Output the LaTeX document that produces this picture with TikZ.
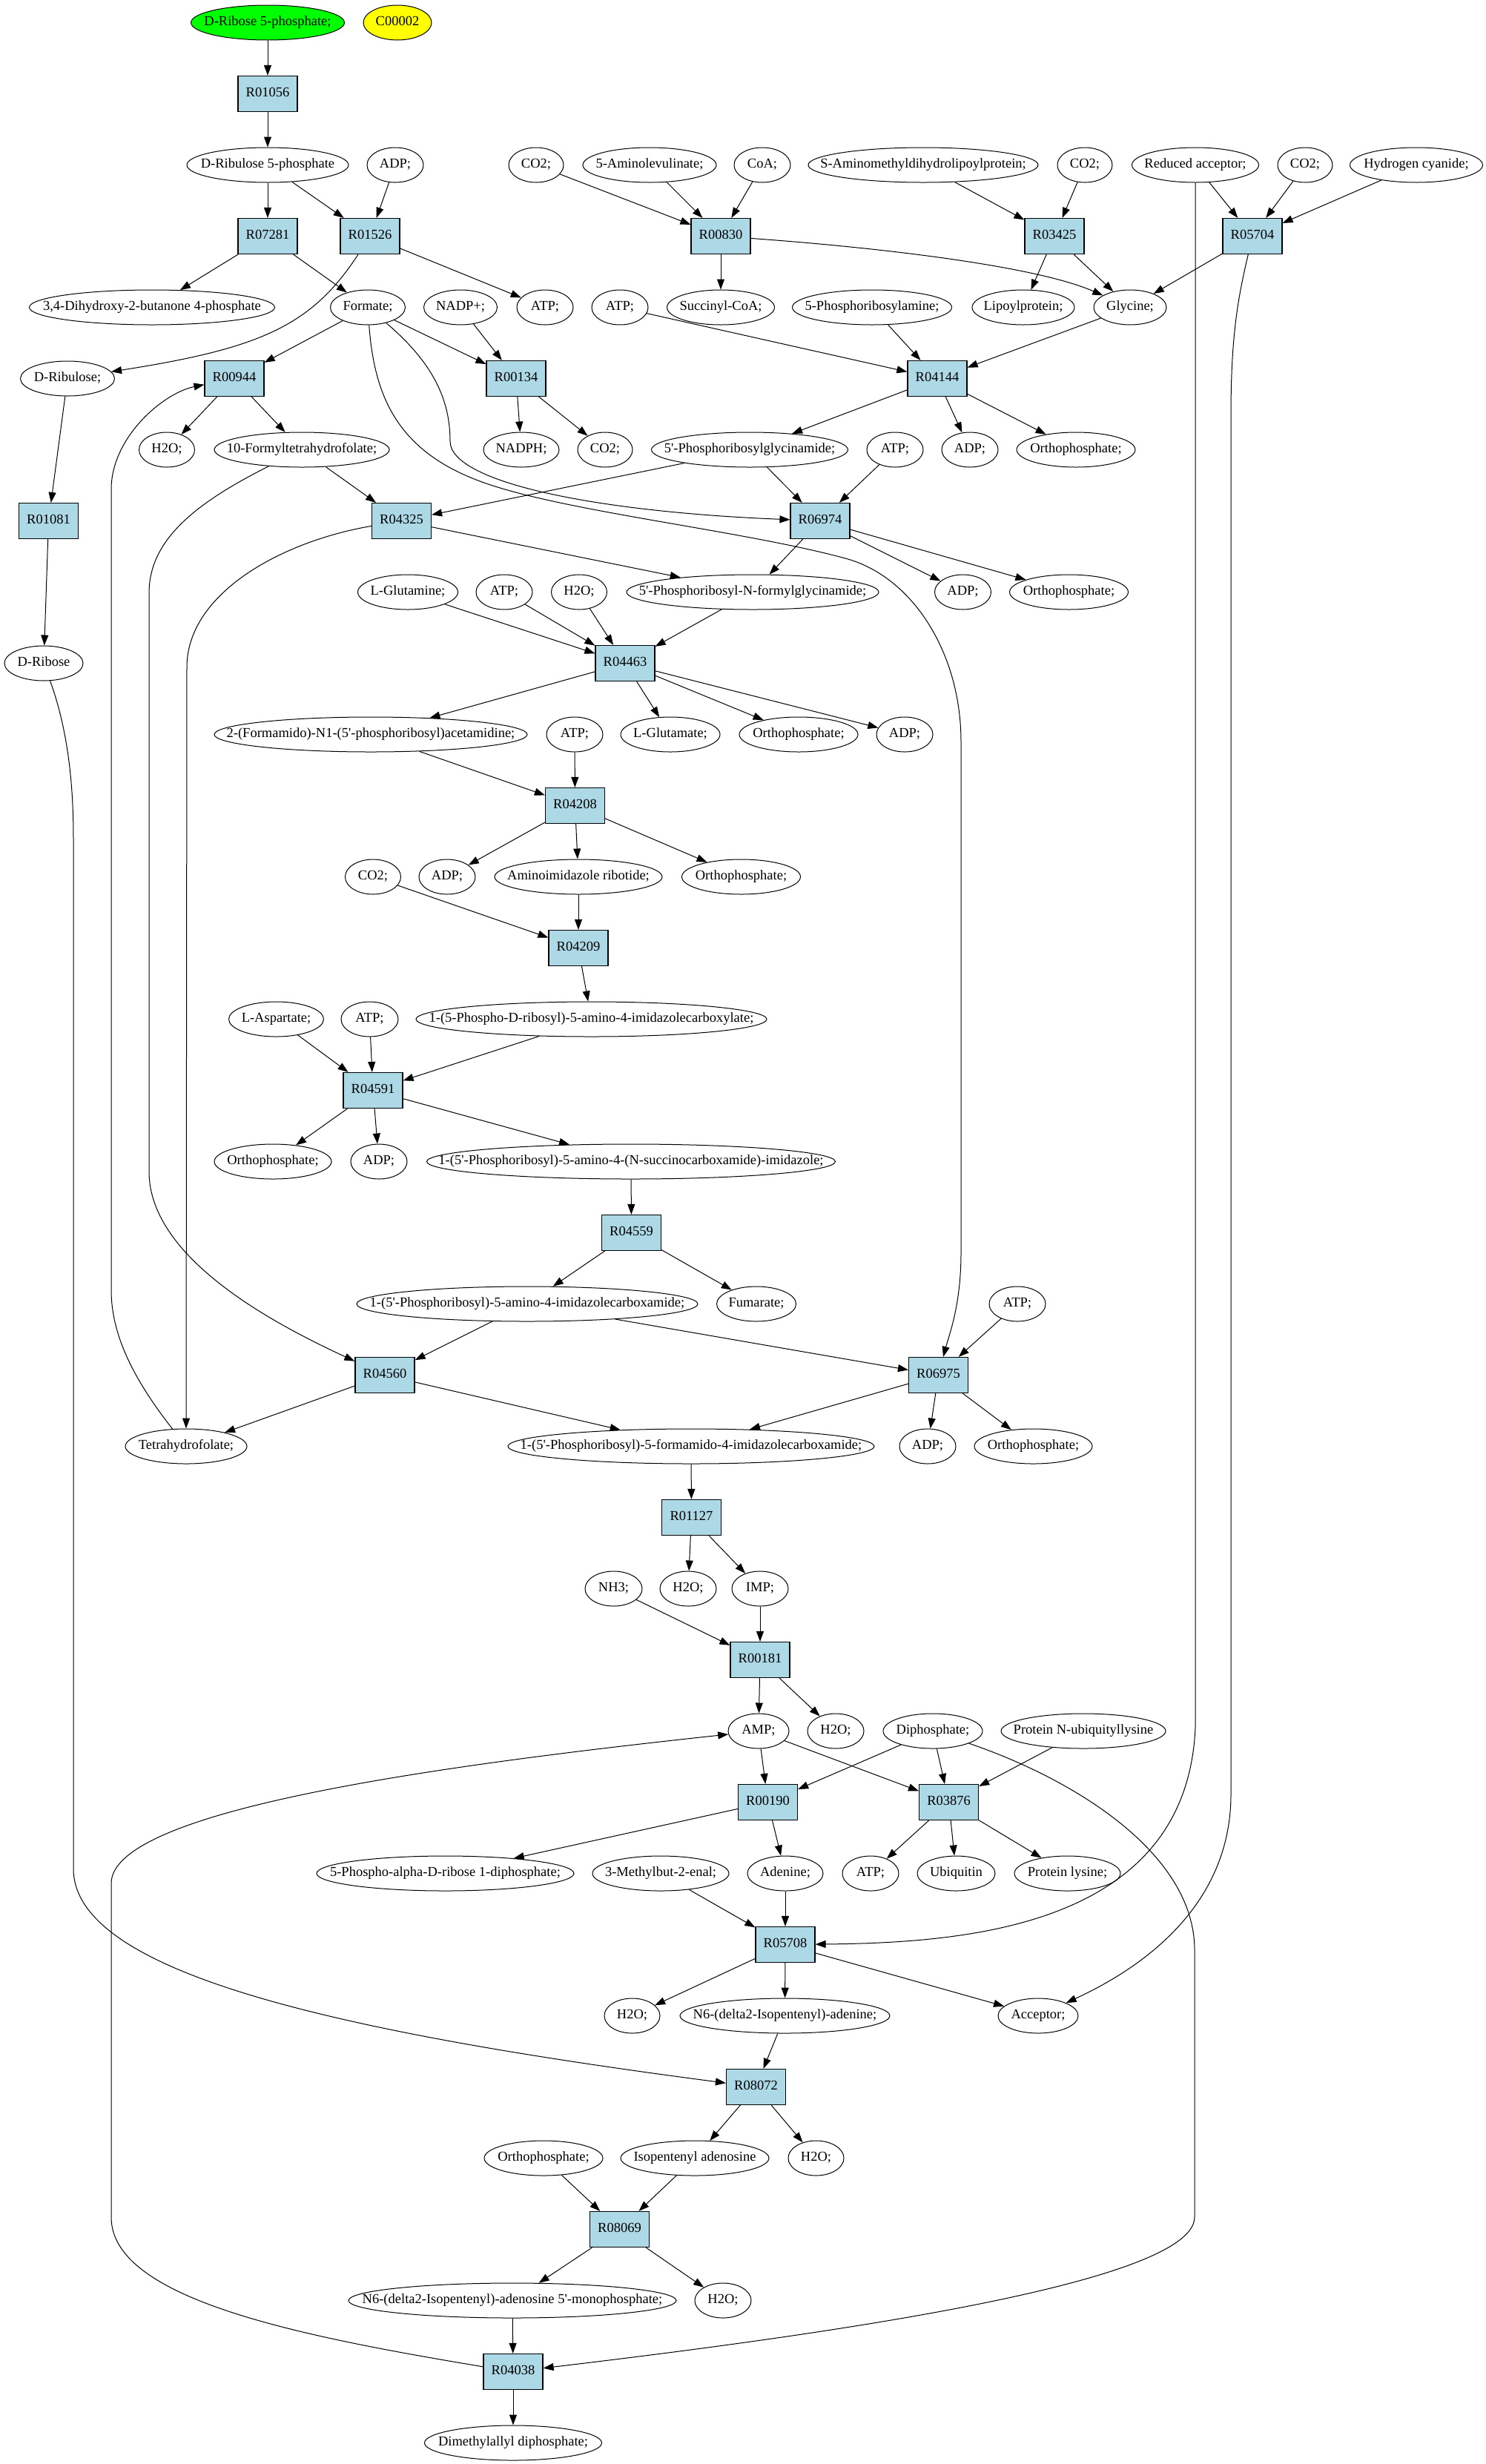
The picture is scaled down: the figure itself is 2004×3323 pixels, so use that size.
\documentclass[tikz,border=0pt]{standalone}
\usepackage{fontspec}
\setmainfont{Liberation Serif}
\newfontfamily\lserif{Liberation Serif}
\usetikzlibrary{arrows.meta,shapes.geometric}
\definecolor{rxnblue}{RGB}{173,216,230}
\definecolor{cgreen}{RGB}{0,255,0}
\definecolor{cyellow}{RGB}{255,255,0}
\newcommand\cfont{\lserif\fontsize{18.5}{22}\selectfont}
% compound: [fill]{name}{x,y}{ellipse width}{text}
\newcommand\cpd[5][white]{%
  \node[cpdstyle, fill=#1, minimum width=#4pt] (#2) at (#3) {\makebox[0pt]{#5}};%
}
\tikzset{
  cpdstyle/.style={ellipse, draw, line width=1pt, inner sep=0pt, minimum height=47pt,
    font=\cfont, text height=12.5pt, text depth=4pt},
  rxn/.style={rectangle, draw, fill=rxnblue, line width=1.2pt, inner sep=0pt,
    minimum width=80pt, minimum height=48pt, font=\cfont, text height=12.5pt, text depth=4pt},
  conn/.style={line width=1pt, -{Triangle[length=14pt,width=10pt]}},
}
\begin{document}
\begin{tikzpicture}[x=1pt,y=-1pt]
\useasboundingbox (0,0) rectangle (2004,3323);
% row 0
\cpd[cgreen]{r5p}{361,30.5}{207}{D-Ribose 5-phosphate;}
\cpd[cyellow]{c2}{536,30.5}{92}{C00002}
% row 1
\node[rxn] (R01056) at (361,126.5) {R01056};
% row 2
\cpd{ru5p}{361,222.5}{218}{D-Ribulose 5-phosphate}
\cpd{adp1}{533,222.5}{76}{ADP;}
\cpd{co2a}{723,222.5}{74}{CO2;}
\cpd{ala}{876,222.5}{180}{5-Aminolevulinate;}
\cpd{coa}{1028,222.5}{76}{CoA;}
\cpd{samdl}{1245,222.5}{310}{S-Aminomethyldihydrolipoylprotein;}
\cpd{co2b}{1463,222.5}{74}{CO2;}
\cpd{redacc}{1612,222.5}{171}{Reduced acceptor;}
\cpd{co2c}{1760,222.5}{74}{CO2;}
\cpd{hcn}{1910,222.5}{179}{Hydrogen cyanide;}
% row 3
\node[rxn] (R07281) at (361,318.5) {R07281};
\node[rxn] (R01526) at (499,318.5) {R01526};
\node[rxn] (R00830) at (972,318.5) {R00830};
\node[rxn] (R03425) at (1422,318.5) {R03425};
\node[rxn] (R05704) at (1689,318.5) {R05704};
% row 4
\cpd{dhbp}{205,414.5}{331}{3,4-Dihydroxy-2-butanone 4-phosphate}
\cpd{formate}{496,414.5}{101}{Formate;}
\cpd{nadp}{621,414.5}{99}{NADP+;}
\cpd{atp1}{735,414.5}{76}{ATP;}
\cpd{atp2}{836,414.5}{76}{ATP;}
\cpd{succoa}{972,414.5}{145}{Succinyl-CoA;}
\cpd{pra}{1176,414.5}{215}{5-Phosphoribosylamine;}
\cpd{lipo}{1380,414.5}{138}{Lipoylprotein;}
\cpd{gly}{1524,414.5}{98}{Glycine;}
% row 5
\cpd{ribulose}{91,510.5}{127}{D-Ribulose;}
\node[rxn] (R00944) at (316,510.5) {R00944};
\node[rxn] (R00134) at (696,510.5) {R00134};
\node[rxn] (R04144) at (1264,510.5) {R04144};
% row 6
\cpd{h2o1}{225,606.5}{75}{H2O;}
\cpd{fthf}{407,606.5}{236}{10-Formyltetrahydrofolate;}
\cpd{nadph}{703,606.5}{102}{NADPH;}
\cpd{co2d}{816,606.5}{74}{CO2;}
\cpd{gar}{1011,606.5}{265}{5'-Phosphoribosylglycinamide;}
\cpd{atp3}{1207,606.5}{76}{ATP;}
\cpd{adp2}{1308,606.5}{76}{ADP;}
\cpd{pi1}{1451,606.5}{160}{Orthophosphate;}
% row 7
\node[rxn] (R01081) at (65.5,702.5) {R01081};
\node[rxn] (R04325) at (541.5,702.5) {R04325};
\node[rxn] (R06974) at (1106,702.5) {R06974};
% row 8
\cpd{gln}{550,798.5}{135}{L-Glutamine;}
\cpd{atp4}{680,798.5}{76}{ATP;}
\cpd{h2o2}{781,798.5}{75}{H2O;}
\cpd{fgar}{1015,798.5}{340}{5'-Phosphoribosyl-N-formylglycinamide;}
\cpd{adp3}{1298.5,798.5}{76}{ADP;}
\cpd{pi2}{1441.5,798.5}{160}{Orthophosphate;}
% row 9
\cpd{ribose}{59,894.5}{106}{D-Ribose}
\node[rxn] (R04463) at (843,894.5) {R04463};
% row 10
\cpd{fgam}{500,990.5}{422}{2-(Formamido)-N1-(5'-phosphoribosyl)acetamidine;}
\cpd{atp5}{775,990.5}{76}{ATP;}
\cpd{glu}{904,990.5}{134}{L-Glutamate;}
\cpd{pi3}{1077,990.5}{160}{Orthophosphate;}
\cpd{adp4}{1220,990.5}{76}{ADP;}
% row 11
\node[rxn] (R04208) at (775.5,1086.5) {R04208};
% row 12
\cpd{co2e}{503,1182.5}{75}{CO2;}
\cpd{adp5}{603,1182.5}{76}{ADP;}
\cpd{air}{780,1182.5}{226}{Aminoimidazole ribotide;}
\cpd{pi4}{999.5,1182.5}{160}{Orthophosphate;}
% row 13
\node[rxn] (R04209) at (780,1278.5) {R04209};
% row 14
\cpd{asp}{372.5,1374.5}{128}{L-Aspartate;}
\cpd{atp6}{498.5,1374.5}{77}{ATP;}
\cpd{cair}{797.5,1374.5}{473}{1-(5-Phospho-D-ribosyl)-5-amino-4-imidazolecarboxylate;}
% row 15
\node[rxn] (R04591) at (503,1470.5) {R04591};
% row 16
\cpd{pi5}{368,1566.5}{158}{Orthophosphate;}
\cpd{adp6}{511,1566.5}{76}{ADP;}
\cpd{saicar}{851,1566.5}{551}{1-(5'-Phosphoribosyl)-5-amino-4-(N-succinocarboxamide)-imidazole;}
% row 17
\node[rxn] (R04559) at (851.5,1662.5) {R04559};
% row 18
\cpd{aicar}{711,1758.5}{460}{1-(5'-Phosphoribosyl)-5-amino-4-imidazolecarboxamide;}
\cpd{fum}{1020,1758.5}{107}{Fumarate;}
\cpd{atp7}{1372,1758.5}{76}{ATP;}
% row 19
\node[rxn] (R04560) at (519,1854.5) {R04560};
\node[rxn] (R06975) at (1265.5,1854.5) {R06975};
% row 20
\cpd{thf}{251,1950.5}{164}{Tetrahydrofolate;}
\cpd{faicar}{932,1950.5}{494}{1-(5'-Phosphoribosyl)-5-formamido-4-imidazolecarboxamide;}
\cpd{adp7}{1251,1950.5}{76}{ADP;}
\cpd{pi6}{1393.5,1950.5}{159}{Orthophosphate;}
% row 21
\node[rxn] (R01127) at (932.5,2046.5) {R01127};
% row 22
\cpd{nh3}{827.5,2142.5}{77}{NH3;}
\cpd{h2o3}{928,2142.5}{76}{H2O;}
\cpd{imp}{1025,2142.5}{76}{IMP;}
% row 23
\node[rxn] (R00181) at (1025,2238.5) {R00181};
% row 24
\cpd{amp}{1023,2334.5}{82}{AMP;}
\cpd{h2o4}{1127,2334.5}{76}{H2O;}
\cpd{ppi}{1258,2334.5}{134}{Diphosphate;}
\cpd{pnub}{1461,2334.5}{222}{Protein N-ubiquityllysine}
% row 25
\node[rxn] (R00190) at (1035.5,2430.5) {R00190};
\node[rxn] (R03876) at (1279.6,2430.5) {R03876};
% row 26
\cpd{prpp}{600.5,2526.5}{347}{5-Phospho-alpha-D-ribose 1-diphosphate;}
\cpd{mbe}{891,2526.5}{184}{3-Methylbut-2-enal;}
\cpd{ade}{1059,2526.5}{102}{Adenine;}
\cpd{atp8}{1174,2526.5}{76}{ATP;}
\cpd{ubq}{1289.5,2526.5}{105}{Ubiquitin}
\cpd{plys}{1439.5,2526.5}{143}{Protein lysine;}
% row 27
\node[rxn] (R05708) at (1059,2622.5) {R05708};
% row 28
\cpd{h2o5}{852.5,2718.5}{75}{H2O;}
\cpd{ipa}{1058.5,2718.5}{283}{N6-(delta2-Isopentenyl)-adenine;}
\cpd{acc}{1400,2718.5}{108}{Acceptor;}
% row 29
\node[rxn] (R08072) at (1019.5,2814.5) {R08072};
% row 30
\cpd{pi7}{733,2910.5}{160}{Orthophosphate;}
\cpd{ipado}{937,2910.5}{200}{Isopentenyl adenosine}
\cpd{h2o6}{1100.5,2910.5}{75}{H2O;}
% row 31
\node[rxn] (R08069) at (835.5,3006.5) {R08069};
% row 32
\cpd{ipamp}{691,3102.5}{442}{N6-(delta2-Isopentenyl)-adenosine 5'-monophosphate;}
\cpd{h2o7}{975,3102.5}{76}{H2O;}
% row 33
\node[rxn] (R04038) at (692,3198.5) {R04038};
% row 34
\cpd{dmapp}{692,3294.5}{239}{Dimethylallyl diphosphate;}

% straight connectors
\foreach \a/\b in {r5p/R01056, R01056/ru5p, ru5p/R07281, ru5p/R01526, adp1/R01526,
  R07281/dhbp, R07281/formate, R01526/atp1, co2a/R00830, ala/R00830, coa/R00830,
  R00830/succoa, samdl/R03425, co2b/R03425, R03425/lipo, R03425/gly,
  redacc/R05704, co2c/R05704, hcn/R05704, R05704/gly, atp2/R04144, pra/R04144,
  gly/R04144, formate/R00944, formate/R00134, nadp/R00134, R00944/h2o1, R00944/fthf,
  R00134/nadph, R00134/co2d, R04144/gar, R04144/adp2, R04144/pi1, fthf/R04325,
  gar/R04325, gar/R06974, atp3/R06974, R04325/fgar, R06974/fgar, R06974/adp3,
  R06974/pi2, ribulose/R01081, R01081/ribose, gln/R04463, atp4/R04463, h2o2/R04463,
  fgar/R04463, R04463/fgam, R04463/glu, R04463/pi3, R04463/adp4, fgam/R04208,
  atp5/R04208, R04208/adp5, R04208/air, R04208/pi4, co2e/R04209, air/R04209,
  R04209/cair, asp/R04591, atp6/R04591, cair/R04591, R04591/pi5, R04591/adp6,
  R04591/saicar, saicar/R04559, R04559/aicar, R04559/fum, aicar/R04560, aicar/R06975,
  atp7/R06975, R04560/thf, R04560/faicar, R06975/faicar, R06975/adp7, R06975/pi6,
  faicar/R01127, R01127/h2o3, R01127/imp, nh3/R00181, imp/R00181, R00181/amp,
  R00181/h2o4, amp/R00190, amp/R03876, ppi/R00190, ppi/R03876, pnub/R03876,
  R00190/prpp, R00190/ade, R03876/atp8, R03876/ubq, R03876/plys, ade/R05708,
  mbe/R05708, R05708/h2o5, R05708/ipa, R05708/acc, ipa/R08072, R08072/ipado,
  R08072/h2o6, pi7/R08069, ipado/R08069, R08069/ipamp, R08069/h2o7, ipamp/R04038,
  R04038/dmapp}
  \draw[conn] (\a) -- (\b);

% curved connectors
\draw[conn] (R01526) .. controls (420,440) and (350,470) .. (ribulose);
\draw[conn] (R00830) .. controls (1200,335) and (1400,360) .. (gly);
\draw[conn] (formate) .. controls (585,490) and (607,540) .. (607,595)
  .. controls (607,650) and (800,690) .. (R06974);
\draw[conn] (formate) .. controls (505,540) and (540,610) .. (650,650)
  .. controls (760,690) and (1000,715) .. (1140,753)
  .. controls (1230,777) and (1296,880) .. (1296,1000) -- (1296,1690)
  .. controls (1296,1760) and (1280,1800) .. (R06975);
\draw[conn] (thf) .. controls (180,1860) and (150,1800) .. (150,1740) -- (150,660)
  .. controls (150,590) and (220,530) .. (R00944);
\draw[conn] (fthf) .. controls (260,680) and (201,730) .. (201,800) -- (201,1580)
  .. controls (201,1700) and (380,1790) .. (R04560);
\draw[conn] (R04325) .. controls (380,730) and (252,800) .. (252,900) -- (thf);
\draw[conn] (R04038) .. controls (400,3150) and (150,3100) .. (150,2990) -- (150,2540)
  .. controls (150,2440) and (600,2380) .. (amp);
\draw[conn] (ribose) .. controls (90,980) and (99,1050) .. (99,1130) -- (99,2520)
  .. controls (99,2660) and (450,2740) .. (R08072);
\draw[conn] (ppi) .. controls (1450,2400) and (1611,2500) .. (1611,2630) -- (1611,2990)
  .. controls (1611,3080) and (1100,3150) .. (R04038);
\draw[conn] (redacc) -- (1612,2330) .. controls (1600,2600) and (1300,2620) .. (R05708);
\draw[conn] (R05704) .. controls (1670,400) and (1660,450) .. (1660,560) -- (1660,2420)
  .. controls (1660,2550) and (1570,2640) .. (acc);
\end{tikzpicture}
\end{document}
